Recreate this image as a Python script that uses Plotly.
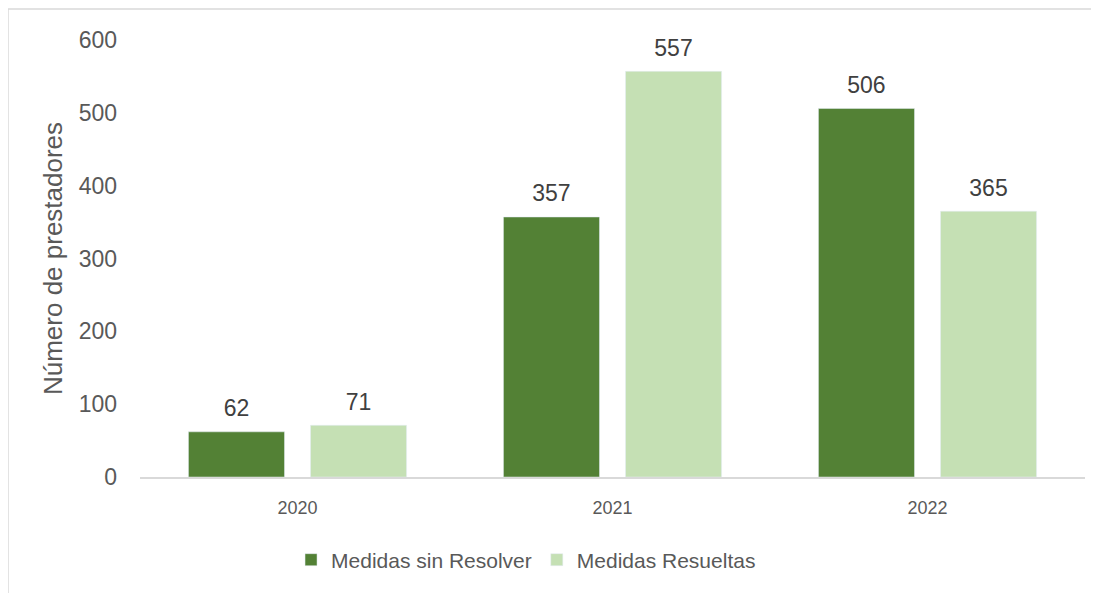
import plotly.graph_objects as go

years = ["2020", "2021", "2022"]
sin_resolver = [62, 357, 506]
resueltas = [71, 557, 365]

fig = go.Figure()
for name, vals, color, grp in [("Medidas sin Resolver", sin_resolver, "#538135", "a"),
                               ("Medidas Resueltas", resueltas, "#C5E0B4", "b")]:
    fig.add_bar(x=years, y=vals, name=name, marker_color=color, offsetgroup=grp)
    # value labels, lifted a little above each bar
    fig.add_scatter(x=years, y=vals, mode="markers+text", text=vals, textposition="top center",
                    marker=dict(size=14, color="rgba(0,0,0,0)"), offsetgroup=grp,
                    textfont=dict(size=23, color="#404040"), showlegend=False,
                    hoverinfo="skip", cliponaxis=False)

# the page puts the plot 8px in from the top left corner
fig.update_layout(
    width=1099, height=593,
    margin=dict(l=132, r=22, t=32, b=124),
    paper_bgcolor="white", plot_bgcolor="white",
    font=dict(family="Arial, Liberation Sans, sans-serif", color="#595959"),
    barmode="group", bargap=0.225, bargroupgap=0.213,
    scattermode="group", scattergap=0.225,
    showlegend=True,
    legend=dict(orientation="h", x=0.4085, xanchor="center", y=-0.19, yanchor="middle",
                font=dict(size=21, color="#595959"), traceorder="normal"),
)
fig.update_xaxes(showline=True, linecolor="#D9D9D9", linewidth=1.5, ticks="",
                 ticklabelstandoff=14, tickfont=dict(size=18, color="#595959"))
fig.update_yaxes(range=[0, 600], dtick=100, showgrid=False, zeroline=False,
                 tickfont=dict(size=23, color="#595959"), ticklabelstandoff=22,
                 title=dict(text="Número de prestadores", font=dict(size=26, color="#595959"), standoff=8))

# outer border of the chart area
fig.add_shape(type="line", xref="paper", yref="paper", x0=-0.1397, x1=1.03, y0=1.071, y1=1.071,
              line=dict(color="#D9D9D9", width=1.5))
fig.add_shape(type="line", xref="paper", yref="paper", x0=-0.1397, x1=-0.1397, y0=1.071, y1=-0.30,
              line=dict(color="#D9D9D9", width=1.5))

fig.write_html("out.html")
